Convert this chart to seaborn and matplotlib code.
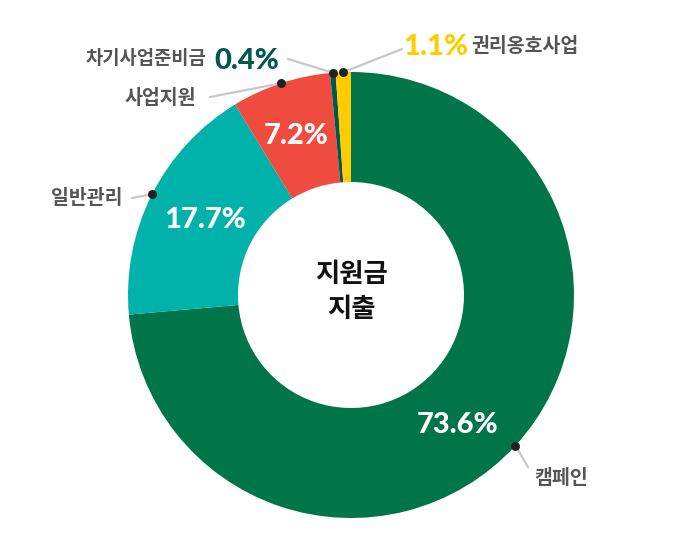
import numpy as np
import matplotlib
matplotlib.use("Agg")
import matplotlib.pyplot as plt
import seaborn as sns

# data
labels = ["캠페인", "일반관리", "사업지원", "차기사업준비금", "권리옹호사업"]
values = [73.6, 17.7, 7.2, 0.4, 1.1]
colors = ["#00754A", "#00B2A9", "#EF4B3F", "#00594F", "#FFCC00"]
center_text = "지원금\n지출"

sns.set_theme(style="white")
plt.rcParams["font.family"] = ["Noto Sans CJK KR", "DejaVu Sans"]
num_font = ["Lato", "DejaVu Sans"]

W, H = 700, 560
cx, cy = 351, H - 295
R, r_in = 223, 113

fig = plt.figure(figsize=(7, 5.6), dpi=100)
ax = fig.add_axes([0, 0, 1, 1])
ax.set_xlim(0, W)
ax.set_ylim(0, H)
ax.set_aspect("equal")
ax.axis("off")

wedges, _ = ax.pie(values, colors=colors, startangle=90, counterclock=False,
                   center=(cx, cy), radius=R,
                   wedgeprops=dict(width=R - r_in, linewidth=0))
ax.set_xlim(0, W)
ax.set_ylim(0, H)

# center title
ax.text(cx, cy + 3, center_text, ha="center", va="center", fontsize=19,
        fontweight="bold", color="#111111", linespacing=1.35)

# percentage labels inside the ring (image coordinates -> flipped)
inner_pos = {0: (458, 425), 1: (205, 220), 2: (296, 136)}
for i, (px, py) in inner_pos.items():
    ax.text(px, H - py, f"{values[i]}%", ha="center", va="center",
            fontsize=21, fontweight=900, color="white", family=num_font)

gray = "#555555"
line_c = "#c8c8c8"
# leader line end points (image coords)
line_end = {0: (528, 467), 1: (132, 198), 2: (210, 97), 3: (288, 59), 4: (402, 49)}

for i, w in enumerate(wedges):
    mid = np.deg2rad((w.theta1 + w.theta2) / 2)
    dx, dy = cx + R * np.cos(mid), cy + R * np.sin(mid)
    ex, ey = line_end[i]
    ax.plot([dx, ex], [dy, H - ey], color=line_c, lw=1.6, zorder=3,
            solid_capstyle="round")
    ax.scatter([dx], [dy], s=42, color="#222222", zorder=4, linewidths=0)

ax.text(534, H - 478, labels[0], ha="left", va="center", fontsize=14,
        fontweight="bold", color=gray)
ax.text(123, H - 198, labels[1], ha="right", va="center", fontsize=14,
        fontweight="bold", color=gray)
ax.text(196, H - 98, labels[2], ha="right", va="center", fontsize=14,
        fontweight="bold", color=gray)
ax.text(206, H - 58, labels[3], ha="right", va="center", fontsize=13.5,
        fontweight="bold", color=gray)
ax.text(214, H - 61, f"{values[3]}%", ha="left", va="center", fontsize=21,
        fontweight=900, color=colors[3], family=num_font)
ax.text(403, H - 47, f"{values[4]}%", ha="left", va="center", fontsize=21,
        fontweight=900, color=colors[4], family=num_font)
ax.text(471, H - 46, labels[4], ha="left", va="center", fontsize=14,
        fontweight="bold", color=gray)

fig.savefig("out.png", dpi=100, facecolor="white")
